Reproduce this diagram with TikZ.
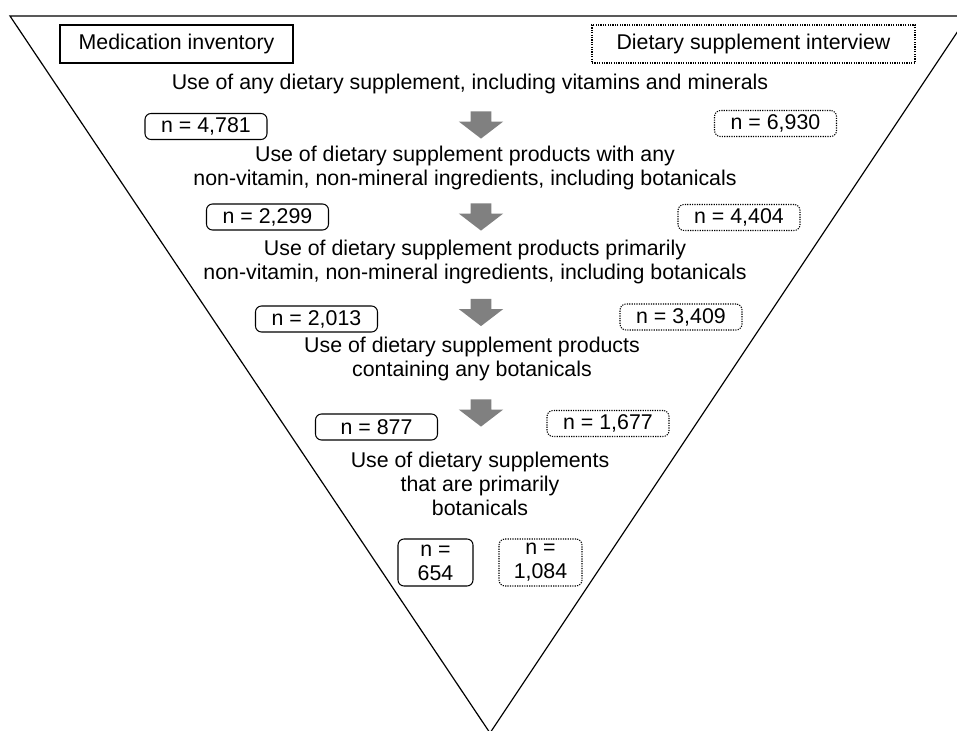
\documentclass[tikz,border=0pt]{standalone}
\usepackage{fontspec}
\setmainfont{Liberation Sans}
\usetikzlibrary{shapes.arrows}

\begin{document}
\begin{tikzpicture}[x=0.75pt,y=-0.75pt,
    font=\fontsize{16}{18}\selectfont,
    stage/.style={align=center,inner sep=0pt},
    hdr/.style={draw,line width=0.8pt,minimum height=28.5pt,inner sep=0pt},
    inv/.style={draw,line width=0.8pt,rounded corners=4.5pt,minimum width=91.5pt,minimum height=19.5pt,inner sep=0pt},
    dots/.style={dash pattern=on 0.9pt off 0.9pt},
    dsi/.style={inv,dots},
    down/.style={single arrow,fill=black!50,rotate=-90,
        minimum height=20.5pt,minimum width=1pt,inner xsep=0pt,inner ysep=7.5pt,
        single arrow head extend=9pt,single arrow tip angle=105}]
    \useasboundingbox (0,0) rectangle (957,731);
    \clip (0,0) rectangle (957,731);
    % funnel
    \coordinate (tl) at (10,16);
    \coordinate (tr) at (968,16);
    \coordinate (tip) at (490,733);
    \draw[line width=0.9pt] (tl) -- (tr) -- (tip) -- cycle;
    % sources
    \node[hdr,minimum width=174.75pt] (medinv) at (176.5,44) {Medication inventory};
    \node[hdr,dots,minimum width=242.25pt] (dsint) at (753.5,44) {Dietary supplement interview};
    % stages
    \node[stage] (s1) at (470,84) {Use of any dietary supplement, including vitamins and minerals};
    \node[stage] (s2) at (465,168) {Use of dietary supplement products with any\\non-vitamin, non-mineral ingredients, including botanicals};
    \node[stage] (s3) at (475,261.5) {Use of dietary supplement products primarily\\non-vitamin, non-mineral ingredients, including botanicals};
    \node[stage] (s4) at (472,359) {Use of dietary supplement products\\containing any botanicals};
    \node[stage] (s5) at (480,484) {Use of dietary supplements\\that are primarily\\botanicals};
    % arrows
    \node[down] (a1) at (481,121) {};
    \node[down] (a2) at (481,213) {};
    \node[down] (a3) at (481,308.5) {};
    \node[down] (a4) at (481,409) {};
    % counts
    \node[inv] (inv1) at (206,126.5) {n = 4,781};
    \node[dsi] (dsi1) at (775.5,123.5) {n = 6,930};
    \node[inv] (inv2) at (267.5,217) {n = 2,299};
    \node[dsi] (dsi2) at (739,217.5) {n = 4,404};
    \node[inv] (inv3) at (316.5,319) {n = 2,013};
    \node[dsi] (dsi3) at (681,317) {n = 3,409};
    \node[inv] (inv4) at (376.5,427) {n = 877};
    \node[dsi] (dsi4) at (608,423.5) {n = 1,677};
    \node[inv,minimum width=56.25pt,minimum height=35.25pt,align=center] (inv5) at (435.5,562.5) {n =\\654};
    \node[dsi,minimum width=62.25pt,minimum height=35.25pt,align=center] (dsi5) at (540.5,562.5) {n =\\1,084};
\end{tikzpicture}
\end{document}
